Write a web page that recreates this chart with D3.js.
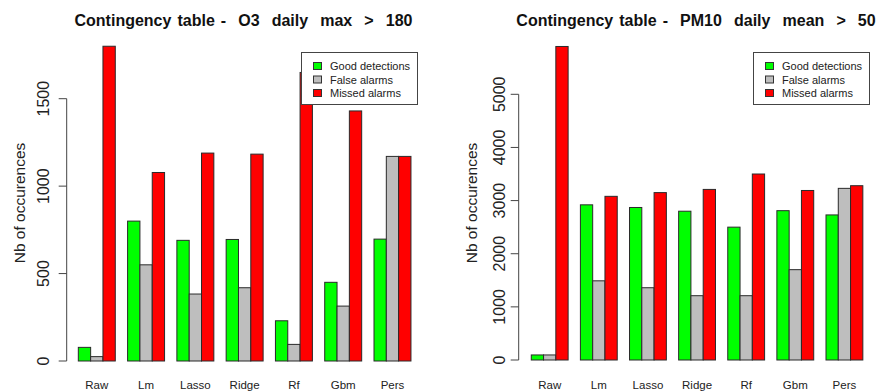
<!DOCTYPE html>
<html>
<head>
<meta charset="utf-8">
<script src="https://cdn.jsdelivr.net/npm/d3@7"></script>
<style>
  html, body { margin: 0; padding: 0; background: #fff; }
  svg { display: block; font-family: "Liberation Sans", Arial, sans-serif; }
  text { white-space: pre; }
</style>
</head>
<body>
<svg id="chart" width="877" height="392"></svg>
<script>
// Model names along the x axis
const models = ["Raw", "Lm", "Lasso", "Ridge", "Rf", "Gbm", "Pers"];
// Contingency outcome types (one bar each per model)
const outcomes = ["Good detections", "False alarms", "Missed alarms"];
const outcomeColors = ["#00ff00", "#bebebe", "#ff0000"];

// O3 daily max > 180
const o3Good   = [78, 800, 690, 695, 230, 450, 697];
const o3False  = [25, 550, 383, 419, 95, 314, 1170];
const o3Missed = [1800, 1078, 1189, 1183, 1650, 1430, 1170];
const o3Ticks  = [0, 500, 1000, 1500];

// PM10 daily mean > 50
const pmGood   = [95, 2920, 2870, 2800, 2500, 2810, 2730];
const pmFalse  = [95, 1490, 1360, 1210, 1210, 1700, 3230];
const pmMissed = [5900, 3080, 3150, 3210, 3500, 3190, 3280];
const pmTicks  = [0, 1000, 2000, 3000, 4000, 5000];

const titles = [
  "Contingency table -  O3  daily  max  >  180",
  "Contingency table -  PM10  daily  mean  >  50"
];
const yLabel = "Nb of occurences";

const svg = d3.select("#chart");

function panel(opt) {
  const g = svg.append("g");
  const series = [opt.good, opt.falseA, opt.missed];

  // R-style grouped layout: each group is 3 bar units plus 1 unit of space before it
  const unit = opt.unit;
  const x = d3.scaleBand()
    .domain(models)
    .range([opt.x0 + 0.5 * unit, opt.x0 + 28.5 * unit])
    .paddingInner(0.25)
    .paddingOuter(0.125);
  const xs = d3.scaleBand().domain(d3.range(outcomes.length)).range([0, x.bandwidth()]);

  const y = d3.scaleLinear().domain([0, opt.tickMax]).range([opt.yBase, opt.yTop]);

  // bars
  models.forEach((m, i) => {
    const grp = g.append("g").attr("transform", `translate(${x(m)},0)`);
    grp.selectAll("rect")
      .data(series.map((s, k) => ({ k, v: s[i] })))
      .join("rect")
      .attr("x", d => xs(d.k))
      .attr("width", xs.bandwidth())
      .attr("y", d => y(d.v))
      .attr("height", d => y(0) - y(d.v))
      .attr("fill", d => outcomeColors[d.k])
      .attr("stroke", "#2a2a2a")
      .attr("stroke-width", 1);
  });

  // y axis: line spans first to last tick, labels parallel to the axis
  const axis = d3.axisLeft(y).tickValues(opt.ticks).tickSize(8).tickPadding(0).tickFormat(d3.format("d"));
  const ag = g.append("g").attr("transform", `translate(${opt.axisX},0)`).call(axis);
  ag.select(".domain").attr("stroke", "#444").attr("d", `M0,${y(opt.ticks[0])}V${y(opt.ticks[opt.ticks.length - 1])}`);
  ag.selectAll(".tick").attr("transform", null);
  ag.selectAll(".tick line").attr("stroke", "#444").attr("transform", d => `translate(0,${y(d)})`);
  ag.selectAll(".tick text")
    .attr("x", 0).attr("y", 0).attr("dy", null)
    .attr("text-anchor", "middle")
    .attr("dominant-baseline", "central")
    .attr("transform", d => `translate(${-opt.tickLabelOff},${y(d)}) rotate(-90)`)
    .attr("font-size", 16)
    .attr("font-family", "Liberation Sans, Arial, sans-serif")
    .attr("fill", "#222");

  // y label
  g.append("text")
    .attr("transform", `translate(${opt.yLabelX},${opt.yLabelY}) rotate(-90)`)
    .attr("text-anchor", "middle")
    .attr("dominant-baseline", "central")
    .attr("font-size", 15.5)
    .attr("fill", "#222")
    .text(yLabel);

  // x labels
  g.selectAll("text.xl").data(models).join("text")
    .attr("class", "xl")
    .attr("x", d => x(d) + x.bandwidth() / 2)
    .attr("y", 384.5)
    .attr("text-anchor", "middle")
    .attr("dominant-baseline", "central")
    .attr("font-size", 11.5)
    .attr("fill", "#222")
    .text(d => d);

  // title
  g.append("text")
    .attr("x", opt.titleX)
    .attr("y", 20.5)
    .attr("text-anchor", "middle")
    .attr("dominant-baseline", "central")
    .attr("font-size", 16)
    .attr("font-weight", "bold")
    .attr("word-spacing", "1.6px")
    .attr("fill", "#111")
    .text(opt.title);

  // legend
  const lg = g.append("g").attr("transform", `translate(${opt.legX},${opt.legY})`);
  lg.append("rect").attr("width", opt.legW).attr("height", 52)
    .attr("fill", "#fff").attr("stroke", "#444").attr("stroke-width", 1);
  outcomes.forEach((name, k) => {
    const cy = 13.5 + k * 13.5;
    lg.append("rect").attr("x", 12).attr("y", cy - 3.5).attr("width", 8).attr("height", 7)
      .attr("fill", outcomeColors[k]).attr("stroke", "#333");
    lg.append("text").attr("x", 28.5).attr("y", cy)
      .attr("dominant-baseline", "central")
      .attr("font-size", 11).attr("fill", "#222").text(name);
  });
}

panel({
  good: o3Good, falseA: o3False, missed: o3Missed, ticks: o3Ticks, tickMax: 1500,
  x0: 66, unit: 12.32, yBase: 361, yTop: 98.7, axisX: 66.7, tickLabelOff: 22.7,
  yLabelX: 19, yLabelY: 203, titleX: 243.5, title: titles[0],
  legX: 301.5, legY: 52.5, legW: 116
});

panel({
  good: pmGood, falseA: pmFalse, missed: pmMissed, ticks: pmTicks, tickMax: 5000,
  x0: 519, unit: 12.28, yBase: 360, yTop: 94.3, axisX: 518.7, tickLabelOff: 19.5,
  yLabelX: 471, yLabelY: 203, titleX: 696, title: titles[1],
  legX: 753.5, legY: 52.5, legW: 116
});
</script>
</body>
</html>
